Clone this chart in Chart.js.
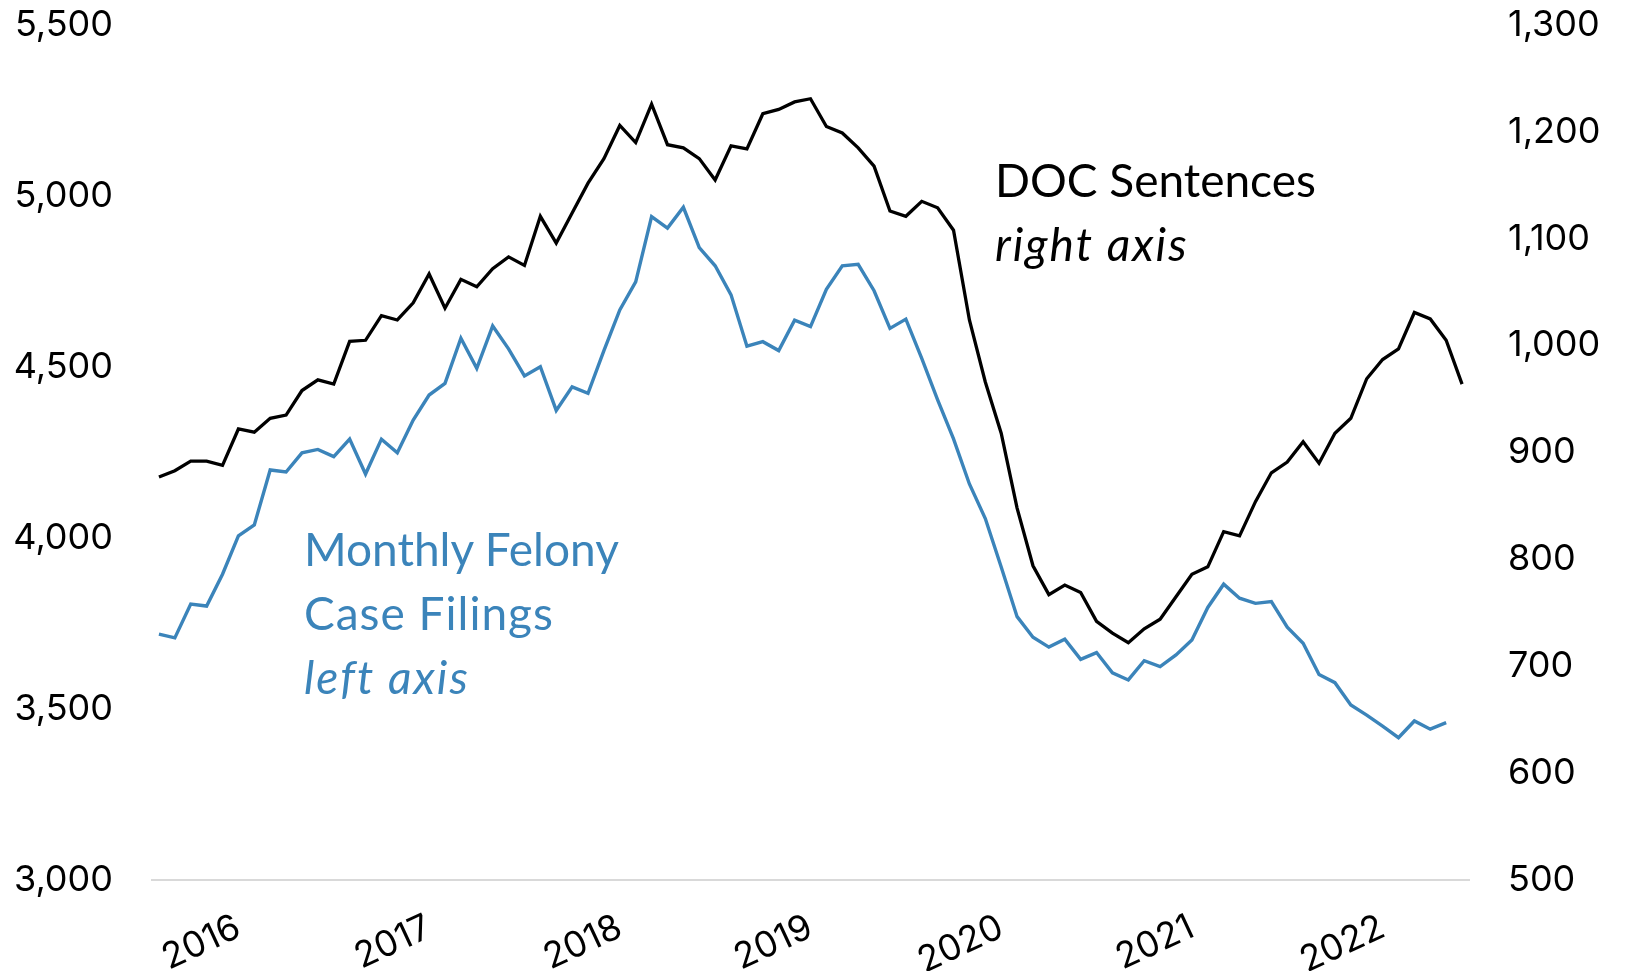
<!DOCTYPE html>
<html>
<head>
<meta charset="utf-8">
<script src="https://cdn.jsdelivr.net/npm/chart.js@4/dist/chart.umd.min.js"></script>
<style>
  html, body { margin: 0; padding: 0; background: #ffffff; }
  #wrap { position: relative; width: 1625px; height: 971px; }
  canvas { position: absolute; left: 0; top: 0; }
  .note { position: absolute; font-family: Lato, "Noto Sans", sans-serif; font-size: 46px; line-height: 64px; white-space: nowrap; }
  .note i { font-style: italic; letter-spacing: 2px; }
</style>
</head>
<body>
<div id="wrap">
  <canvas id="c" width="1625" height="971"></canvas>
  <div class="note" id="docNote" style="left:995px; top:148px; color:#000000;">DOC Sentences<br><i>right axis</i></div>
  <div class="note" id="felNote" style="left:304px; top:517px; color:#3B84BA;">Monthly Felony<br><span style="letter-spacing:1px">Case Filings</span><br><i>left axis</i></div>
</div>
<script>
// Monthly categories, Aug 2015 – Jun 2022
const months = [
  '2015-08','2015-09','2015-10','2015-11','2015-12',
  '2016-01','2016-02','2016-03','2016-04','2016-05','2016-06','2016-07','2016-08','2016-09','2016-10','2016-11','2016-12',
  '2017-01','2017-02','2017-03','2017-04','2017-05','2017-06','2017-07','2017-08','2017-09','2017-10','2017-11','2017-12',
  '2018-01','2018-02','2018-03','2018-04','2018-05','2018-06','2018-07','2018-08','2018-09','2018-10','2018-11','2018-12',
  '2019-01','2019-02','2019-03','2019-04','2019-05','2019-06','2019-07','2019-08','2019-09','2019-10','2019-11','2019-12',
  '2020-01','2020-02','2020-03','2020-04','2020-05','2020-06','2020-07','2020-08','2020-09','2020-10','2020-11','2020-12',
  '2021-01','2021-02','2021-03','2021-04','2021-05','2021-06','2021-07','2021-08','2021-09','2021-10','2021-11','2021-12',
  '2022-01','2022-02','2022-03','2022-04','2022-05','2022-06'
];

// Year tick labels shown on the x axis (placed at January of each year)
const yearTicks = ['2016','2017','2018','2019','2020','2021','2022'];

// Monthly felony case filings (left axis)
const felonyFilings = [
  3719, 3708, 3807, 3801, 3894,
  4006, 4038, 4199, 4193, 4249, 4259, 4238, 4289, 4187, 4289, 4249, 4345,
  4418, 4452, 4584, 4496, 4620, 4553, 4474, 4501, 4373, 4442, 4423, 4548,
  4667, 4749, 4940, 4906, 4967, 4849, 4796, 4711, 4561, 4574, 4548, 4637,
  4618, 4727, 4796, 4800, 4723, 4613, 4640, 4525, 4404, 4290, 4158, 4057,
  3915, 3770, 3710, 3681, 3704, 3645, 3665, 3606, 3585, 3641, 3624, 3658,
  3702, 3797, 3865, 3824, 3809, 3814, 3739, 3692, 3601, 3577, 3512, 3482,
  3450, 3416, 3465, 3441, 3460, null
];

// DOC sentences (right axis)
const docSentences = [
  877, 883, 892, 892, 888,
  922, 919, 932, 935, 958, 968, 964, 1004, 1005, 1028, 1024, 1040,
  1067, 1035, 1062, 1055, 1072, 1083, 1075, 1121, 1096, 1124, 1152, 1175,
  1206, 1190, 1226, 1188, 1185, 1175, 1155, 1187, 1184, 1217, 1221, 1228,
  1231, 1205, 1199, 1185, 1168, 1126, 1121, 1135, 1129, 1108, 1024, 966,
  918, 848, 794, 767, 776, 769, 742, 731, 722, 735, 744, 765,
  786, 793, 826, 822, 854, 881, 891, 910, 890, 918, 932, 969,
  987, 997, 1031, 1025, 1005, 964
];

// Axis tick settings
const leftTicks = { min: 3000, max: 5500, step: 500 };
const rightTicks = { min: 500, max: 1300, step: 100 };

const TICKFONT = 'Inter, Lato, sans-serif';
const BLUE = '#3B84BA';

function noPad(s) { s.paddingTop = 0; s.paddingBottom = 0; s.paddingLeft = 0; s.paddingRight = 0; }

new Chart(document.getElementById('c'), {
  type: 'line',
  data: {
    labels: months,
    datasets: [
      {
        label: 'DOC Sentences',
        data: docSentences,
        yAxisID: 'yR',
        borderColor: '#000000',
        borderWidth: 3.3,
        pointRadius: 0,
        tension: 0,
        fill: false
      },
      {
        label: 'Monthly Felony Case Filings',
        data: felonyFilings,
        yAxisID: 'yL',
        borderColor: BLUE,
        borderWidth: 3.4,
        pointRadius: 0,
        tension: 0,
        fill: false
      }
    ]
  },
  options: {
    responsive: false,
    animation: false,
    layout: { padding: { top: 25, bottom: 0, left: 0, right: 0 } },
    plugins: { legend: { display: false }, tooltip: { enabled: false } },
    scales: {
      x: {
        type: 'category',
        offset: true,
        grid: { display: false, drawTicks: false },
        border: { display: false },
        ticks: {
          autoSkip: false,
          minRotation: 25,
          maxRotation: 25,
          padding: 26,
          color: '#000000',
          font: { family: TICKFONT, size: 36 },
          callback: function (v, i) {
            const m = months[i];
            if (m.slice(5) === '01') {
              const y = m.slice(0, 4);
              return yearTicks.includes(y) ? y : '';
            }
            return '';
          }
        },
        afterFit: function (s) { s.height = 91; noPad(s); }
      },
      yL: {
        position: 'left',
        min: leftTicks.min,
        max: leftTicks.max,
        grid: {
          drawTicks: false,
          lineWidth: 2,
          color: function (ctx) { return ctx.tick && ctx.tick.value === leftTicks.min ? '#d9d9d9' : 'rgba(0,0,0,0)'; }
        },
        border: { display: false },
        ticks: {
          stepSize: leftTicks.step,
          padding: 38,
          color: '#000000',
          font: { family: TICKFONT, size: 36 },
          callback: function (v) { return Number(v).toLocaleString('en-US'); }
        },
        afterFit: function (s) { s.width = 151; noPad(s); }
      },
      yR: {
        position: 'right',
        min: rightTicks.min,
        max: rightTicks.max,
        grid: { display: false, drawTicks: false },
        border: { display: false },
        ticks: {
          stepSize: rightTicks.step,
          padding: 38,
          color: '#000000',
          font: { family: TICKFONT, size: 36 },
          callback: function (v) { return Number(v).toLocaleString('en-US'); }
        },
        afterFit: function (s) { s.width = 155; noPad(s); }
      }
    }
  }
});
</script>
</body>
</html>
